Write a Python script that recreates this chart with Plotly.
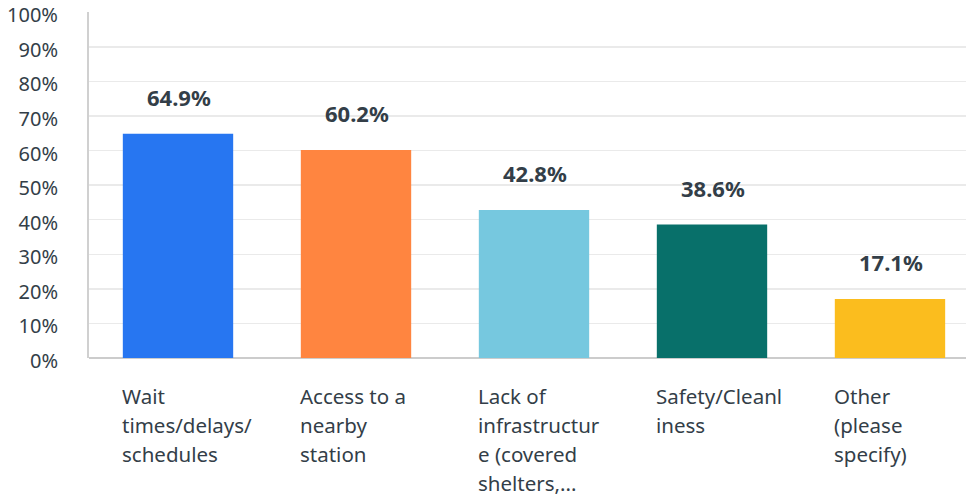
import plotly.graph_objects as go

categories = [["Wait", "times/delays/", "schedules"],
              ["Access to a", "nearby", "station"],
              ["Lack of", "infrastructur", "e (covered", "shelters,..."],
              ["Safety/Cleanl", "iness"],
              ["Other", "(please", "specify)"]]
values = [64.9, 60.2, 42.8, 38.6, 17.1]
value_labels = ["64.9%", "60.2%", "42.8%", "38.6%", "17.1%"]
colors = ["#2776F1", "#FF8540", "#76C8DF", "#08706A", "#FBBD1E"]
tick_vals = [0, 10, 20, 30, 40, 50, 60, 70, 80, 90, 100]
tick_text = ["0%", "10%", "20%", "30%", "40%", "50%", "60%", "70%", "80%", "90%", "100%"]

FONT = "Noto Sans"
TXT = "#333E48"
BW = 0.62
xs = list(range(len(categories)))

fig = go.Figure(go.Bar(x=xs, y=values, marker_color=colors, width=BW,
                       marker_line_width=0, hoverinfo="skip"))

annotations = []
for i, (v, lab) in enumerate(zip(values, value_labels)):
    annotations.append(dict(x=i, y=v, xref="x", yref="y", text="<b>" + lab + "</b>",
                            showarrow=False, yanchor="bottom", yshift=20, xshift=1,
                            font=dict(family=FONT, size=22, color=TXT)))
for i, lines in enumerate(categories):
    for j, line in enumerate(lines):
        annotations.append(dict(x=i - BW / 2, y=0, xref="x", yref="paper", text=line,
                                showarrow=False, xanchor="left", yanchor="middle",
                                align="left", yshift=-38 - 29 * j, xshift=-3,
                                font=dict(family=FONT, size=20.5, color=TXT)))

fig.update_layout(
    width=966, height=496,
    margin=dict(l=89, r=0, t=12, b=138, autoexpand=False),
    paper_bgcolor="white", plot_bgcolor="white",
    showlegend=False,
    annotations=annotations,
    xaxis=dict(range=[-0.5, 4.427], showticklabels=False, showgrid=False,
               zeroline=False, showline=False, fixedrange=True, automargin=False),
    yaxis=dict(range=[0, 100.1], tickvals=tick_vals, ticktext=tick_text,
               showgrid=True, gridcolor="#EAEAEA", gridwidth=1.5,
               zeroline=True, zerolinecolor="#CCCCCC", zerolinewidth=2,
               showline=True, linecolor="#D0D0D0", linewidth=2,
               ticks="", ticklabelstandoff=25, ticklabelshift=3, automargin=False,
               ticklabeloverflow="allow", fixedrange=True,
               tickfont=dict(family=FONT, size=20, color=TXT)),
)

fig.write_html("out.html", config={"displayModeBar": False, "staticPlot": True},
               post_script="document.body.style.margin='0';document.body.style.overflow='hidden';")
